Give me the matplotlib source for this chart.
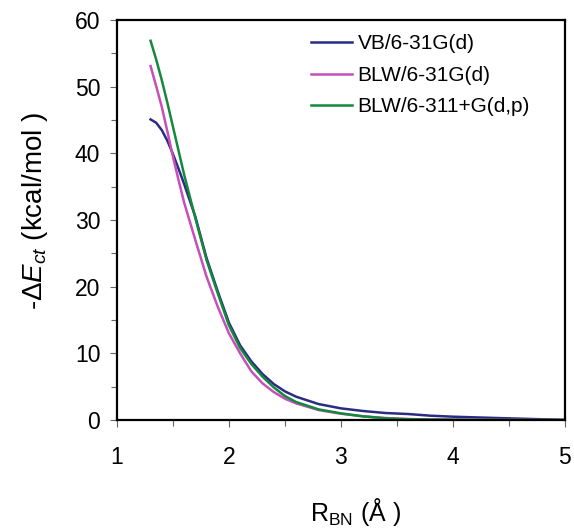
import matplotlib
matplotlib.use('Agg')
import matplotlib.pyplot as plt
from matplotlib.ticker import MultipleLocator

plt.rcParams['font.family'] = ['Liberation Sans', 'DejaVu Sans']
plt.rcParams['mathtext.fontset'] = 'custom'
plt.rcParams['mathtext.rm'] = 'Liberation Sans'
plt.rcParams['mathtext.it'] = 'Liberation Sans:italic'

r_bn = [1.3, 1.35, 1.4, 1.45, 1.5, 1.55, 1.6, 1.7, 1.8, 1.9, 2.0, 2.1, 2.2, 2.3, 2.4, 2.5,
        2.6, 2.8, 3.0, 3.2, 3.4, 3.6, 3.8, 4.0, 4.5, 5.0]
vb_631 = [45.1, 44.6, 43.5, 41.9, 39.9, 37.7, 35.4, 30.5, 24.3, 19.3, 14.6, 11.2, 8.8, 6.9, 5.4, 4.3,
          3.5, 2.4, 1.75, 1.35, 1.05, 0.9, 0.65, 0.5, 0.25, 0.02]
blw_631 = [53.1, 50.1, 47.0, 43.3, 39.5, 36.0, 32.6, 27.0, 21.5, 17.0, 13.0, 10.0, 7.3, 5.5, 4.2, 3.2,
           2.5, 1.5, 0.95, 0.55, 0.3, 0.15, 0.08, 0.05, 0.02, 0.0]
blw_6311 = [56.9, 54.1, 51.0, 47.6, 44.0, 40.4, 36.8, 30.3, 24.0, 19.0, 14.2, 10.8, 8.4, 6.5, 4.9, 3.6,
            2.7, 1.6, 1.0, 0.55, 0.25, 0.12, 0.07, 0.05, 0.02, 0.0]
labels = ['VB/6-31G(d)', 'BLW/6-31G(d)', 'BLW/6-311+G(d,p)']
colors = ['#2b2b85', '#c64fb9', '#14893c']

fig = plt.figure(figsize=(5.74, 5.29), dpi=100)
ax = fig.add_axes([0.2038, 0.206, 0.7802, 0.756])

for ys, lab, c in zip([vb_631, blw_631, blw_6311], labels, colors):
    ax.plot(r_bn, ys, color=c, lw=1.8, label=lab)

ax.set_xlim(1, 5)
ax.set_ylim(0, 60)
ax.xaxis.set_major_locator(MultipleLocator(1))
ax.xaxis.set_minor_locator(MultipleLocator(0.5))
ax.yaxis.set_major_locator(MultipleLocator(10))
ax.yaxis.set_minor_locator(MultipleLocator(5))
ax.tick_params(axis='both', which='both', direction='out', color='#666666', width=0.8)
ax.tick_params(axis='x', which='major', length=5, pad=14, labelsize=16.5)
ax.tick_params(axis='y', which='major', length=5, pad=7, labelsize=16.5)
ax.tick_params(which='minor', length=4)
for s in ax.spines.values():
    s.set_linewidth(1.6)

ax.set_xlabel(r'R$_{\mathrm{BN}}$ (Å )', fontsize=18)
ax.xaxis.set_label_coords(0.533, -0.19)
ax.set_ylabel(r'-$\mathit{ΔE}_{ct}$ (kcal/mol )', fontsize=20)
ax.yaxis.set_label_coords(-0.15, 0.524)

ax.legend(loc='upper left', frameon=False, fontsize=15, handlelength=2.0,
          handletextpad=0.25, labelspacing=0.6, borderaxespad=0,
          bbox_to_anchor=(0.414, 0.985))

fig.savefig('out.png', dpi=100)
